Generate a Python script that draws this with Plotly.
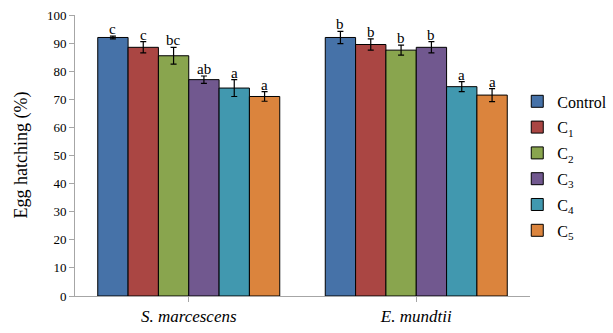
import plotly.graph_objects as go

categories = ["S. marcescens", "E. mundtii"]
cat_labels = ["<i>S. marcescens</i>", "<i>E. mundtii</i>"]
series_names = ["Control", "C<sub>1</sub>", "C<sub>2</sub>", "C<sub>3</sub>", "C<sub>4</sub>", "C<sub>5</sub>"]
colors = ["#4672A8", "#AA4643", "#89A54E", "#71588F", "#4198AF", "#DB843D"]

control = [92.0, 92.0]
c1 = [88.5, 89.5]
c2 = [85.5, 87.5]
c3 = [77.0, 88.5]
c4 = [74.0, 74.5]
c5 = [71.0, 71.5]
values = [control, c1, c2, c3, c4, c5]

err_control = [0.5, 2.2]
err_c1 = [2.0, 2.0]
err_c2 = [3.0, 1.8]
err_c3 = [1.3, 2.0]
err_c4 = [3.0, 1.8]
err_c5 = [1.7, 2.3]
errors = [err_control, err_c1, err_c2, err_c3, err_c4, err_c5]

letters_control = ["c", "b"]
letters_c1 = ["c", "b"]
letters_c2 = ["bc", "b"]
letters_c3 = ["ab", "b"]
letters_c4 = ["a", "a"]
letters_c5 = ["a", "a"]
letters = [letters_control, letters_c1, letters_c2, letters_c3, letters_c4, letters_c5]

SERIF = "Liberation Serif, Times New Roman, DejaVu Serif, serif"

fig = go.Figure()
for k, (name, col, vals, errs) in enumerate(zip(series_names, colors, values, errors)):
    fig.add_trace(go.Bar(
        x=[0, 1], y=vals, name=name, legendgroup="g%d" % k,
        marker=dict(color=col, line=dict(color="#000000", width=1)),
        error_y=dict(type="data", array=errs, visible=True, color="#000000",
                     thickness=1.2, width=3),
    ))

n = len(series_names)
group_w = 0.8
bw = group_w / n
annotations = []
for i in range(n):
    for j in range(len(categories)):
        xc = j - group_w / 2 + bw * (i + 0.5)
        annotations.append(dict(
            x=xc, y=values[i][j] + errors[i][j], xref="x", yref="y",
            text=letters[i][j], showarrow=False, yanchor="bottom", yshift=-3,
            font=dict(family=SERIF, size=15, color="#000000"),
        ))

annotations.append(dict(
    x=-(75 - 21) / 455.0, y=0.5, xref="paper", yref="paper", xanchor="center", yanchor="middle",
    text="Egg hatching (%)", textangle=-90, showarrow=False,
    font=dict(family=SERIF, size=18, color="#000000"),
))

fig.update_layout(
    width=613, height=333,
    margin=dict(l=75, r=83, t=15, b=37, autoexpand=False),
    paper_bgcolor="white", plot_bgcolor="white",
    barmode="group", bargap=0.2, bargroupgap=0,
    font=dict(family=SERIF, size=13, color="#000000"),
    annotations=annotations,
    showlegend=True,
    legend=dict(x=0.972, xanchor="left",
                y=0.463, yanchor="middle",
                font=dict(family=SERIF, size=16, color="#000000"),
                traceorder="grouped", tracegroupgap=2, itemwidth=30,
                bgcolor="rgba(0,0,0,0)"),
    xaxis=dict(
        tickmode="array", tickvals=[0, 1], ticktext=cat_labels,
        range=[-0.5, 1.5], automargin=False,
        showline=True, linecolor="#A6A6A6", linewidth=1,
        ticks="outside", tickson="boundaries", ticklen=5, tickcolor="#A6A6A6",
        tickfont=dict(family=SERIF, size=17, color="#000000"),
        showgrid=False, zeroline=False,
    ),
    yaxis=dict(
        range=[0, 100], dtick=10, automargin=False,
        showline=True, linecolor="#A6A6A6", linewidth=1,
        ticks="outside", ticklen=5, tickcolor="#A6A6A6",
        tickfont=dict(family=SERIF, size=13, color="#000000"),
        showgrid=False, zeroline=False,
    ),
)

fig.write_html("out.html", config={"displayModeBar": False},
               post_script="document.body.style.margin='0px';document.body.style.padding='0px';")
